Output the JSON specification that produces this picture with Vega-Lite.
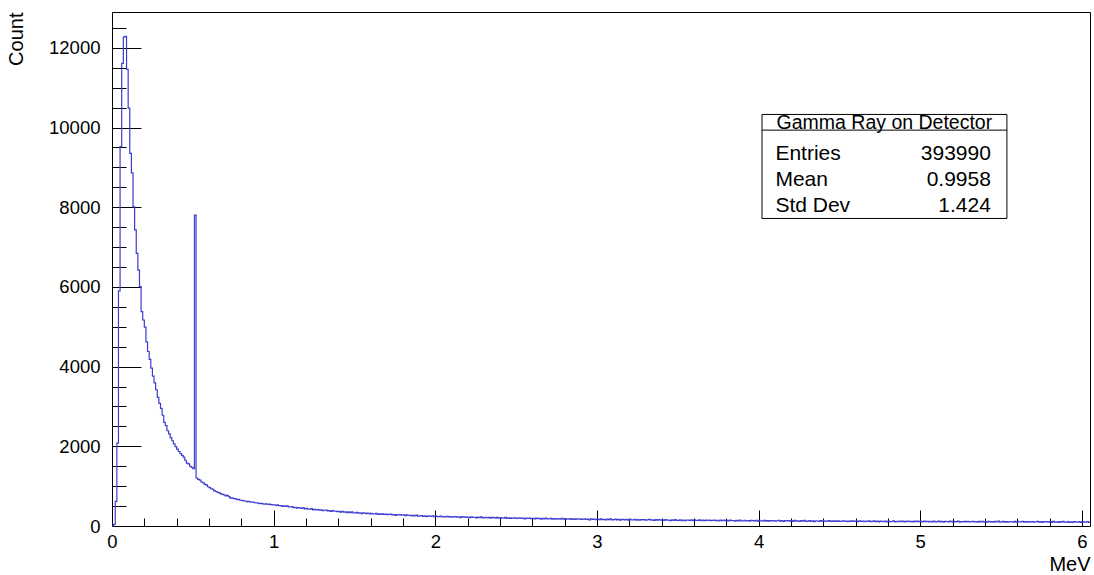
{
  "$schema": "https://vega.github.io/schema/vega-lite/v6.json",
  "autosize": {"type": "none"},
  "padding": {"left": 112, "top": 12, "right": 4, "bottom": 49},
  "width": 978,
  "height": 514,
  "background": "white",
  "config": {
    "view": {"stroke": "black", "strokeWidth": 1},
    "font": "Liberation Sans",
    "axis": {
      "grid": false,
      "domain": false,
      "tickColor": "black",
      "tickWidth": 1,
      "labelColor": "black",
      "labelFont": "Liberation Sans",
      "labelFontSize": 18.5,
      "titleColor": "black",
      "titleFont": "Liberation Sans",
      "titleFontSize": 20,
      "titleFontWeight": "normal"
    }
  },
  "datasets": {
    "spectrum": [
      {"mev":0.00,"count":0},{"mev":0.01,"count":40},{"mev":0.02,"count":620},{"mev":0.03,"count":2080},{"mev":0.04,"count":5900},
      {"mev":0.05,"count":9520},{"mev":0.06,"count":11610},{"mev":0.07,"count":12270},{"mev":0.08,"count":12290},{"mev":0.09,"count":11460},
      {"mev":0.10,"count":10490},{"mev":0.11,"count":9350},{"mev":0.12,"count":8860},{"mev":0.13,"count":8010},{"mev":0.14,"count":7430},
      {"mev":0.15,"count":6840},{"mev":0.16,"count":6420},{"mev":0.17,"count":6010},{"mev":0.18,"count":5380},{"mev":0.19,"count":5170},
      {"mev":0.20,"count":4990},{"mev":0.21,"count":4620},{"mev":0.22,"count":4380},{"mev":0.23,"count":4180},{"mev":0.24,"count":3960},
      {"mev":0.25,"count":3760},{"mev":0.26,"count":3590},{"mev":0.27,"count":3420},{"mev":0.28,"count":3230},{"mev":0.29,"count":3080},
      {"mev":0.30,"count":2950},{"mev":0.31,"count":2780},{"mev":0.32,"count":2600},{"mev":0.33,"count":2520},{"mev":0.34,"count":2390},
      {"mev":0.35,"count":2310},{"mev":0.36,"count":2220},{"mev":0.37,"count":2140},{"mev":0.38,"count":2060},{"mev":0.39,"count":1990},
      {"mev":0.40,"count":1930},{"mev":0.41,"count":1870},{"mev":0.42,"count":1820},{"mev":0.43,"count":1770},{"mev":0.44,"count":1730},
      {"mev":0.45,"count":1650},{"mev":0.46,"count":1580},{"mev":0.47,"count":1560},{"mev":0.48,"count":1500},{"mev":0.49,"count":1470},
      {"mev":0.50,"count":1440},{"mev":0.51,"count":7800},{"mev":0.52,"count":1205},{"mev":0.53,"count":1168},{"mev":0.54,"count":1152},
      {"mev":0.55,"count":1104},{"mev":0.56,"count":1091},{"mev":0.57,"count":1046},{"mev":0.58,"count":1031},{"mev":0.59,"count":985},
      {"mev":0.60,"count":962},{"mev":0.61,"count":935},{"mev":0.62,"count":918},{"mev":0.63,"count":880},{"mev":0.64,"count":866},
      {"mev":0.65,"count":842},{"mev":0.66,"count":833},{"mev":0.67,"count":808},{"mev":0.68,"count":792},{"mev":0.69,"count":781},
      {"mev":0.70,"count":754},{"mev":0.71,"count":768},{"mev":0.72,"count":735},{"mev":0.73,"count":702},{"mev":0.74,"count":708},
      {"mev":0.75,"count":689},{"mev":0.76,"count":680},{"mev":0.77,"count":664},{"mev":0.78,"count":668},{"mev":0.79,"count":646},
      {"mev":0.80,"count":641},{"mev":0.81,"count":632},{"mev":0.82,"count":628},{"mev":0.83,"count":612},{"mev":0.84,"count":618},
      {"mev":0.85,"count":603},{"mev":0.86,"count":596},{"mev":0.87,"count":601},{"mev":0.88,"count":584},{"mev":0.89,"count":579},
      {"mev":0.90,"count":576},{"mev":0.91,"count":562},{"mev":0.92,"count":570},{"mev":0.93,"count":555},{"mev":0.94,"count":548},
      {"mev":0.95,"count":553},{"mev":0.96,"count":541},{"mev":0.97,"count":547},{"mev":0.98,"count":535},{"mev":0.99,"count":530},
      {"mev":1.00,"count":533},{"mev":1.01,"count":514},{"mev":1.02,"count":530},{"mev":1.03,"count":510},{"mev":1.04,"count":512},
      {"mev":1.05,"count":493},{"mev":1.06,"count":507},{"mev":1.07,"count":489},{"mev":1.08,"count":504},{"mev":1.09,"count":478},
      {"mev":1.10,"count":477},{"mev":1.11,"count":485},{"mev":1.12,"count":462},{"mev":1.13,"count":471},{"mev":1.14,"count":449},
      {"mev":1.15,"count":463},{"mev":1.16,"count":453},{"mev":1.17,"count":440},{"mev":1.18,"count":453},{"mev":1.19,"count":428},
      {"mev":1.20,"count":441},{"mev":1.21,"count":423},{"mev":1.22,"count":423},{"mev":1.23,"count":434},{"mev":1.24,"count":407},
      {"mev":1.25,"count":418},{"mev":1.26,"count":403},{"mev":1.27,"count":414},{"mev":1.28,"count":399},{"mev":1.29,"count":405},
      {"mev":1.30,"count":387},{"mev":1.31,"count":395},{"mev":1.32,"count":399},{"mev":1.33,"count":379},{"mev":1.34,"count":387},
      {"mev":1.35,"count":366},{"mev":1.36,"count":384},{"mev":1.37,"count":370},{"mev":1.38,"count":376},{"mev":1.39,"count":361},
      {"mev":1.40,"count":368},{"mev":1.41,"count":350},{"mev":1.42,"count":368},{"mev":1.43,"count":350},{"mev":1.44,"count":354},
      {"mev":1.45,"count":337},{"mev":1.46,"count":353},{"mev":1.47,"count":337},{"mev":1.48,"count":354},{"mev":1.49,"count":330},
      {"mev":1.50,"count":331},{"mev":1.51,"count":342},{"mev":1.52,"count":321},{"mev":1.53,"count":332},{"mev":1.54,"count":312},
      {"mev":1.55,"count":329},{"mev":1.56,"count":322},{"mev":1.57,"count":311},{"mev":1.58,"count":326},{"mev":1.59,"count":303},
      {"mev":1.60,"count":319},{"mev":1.61,"count":303},{"mev":1.62,"count":304},{"mev":1.63,"count":317},{"mev":1.64,"count":292},
      {"mev":1.65,"count":304},{"mev":1.66,"count":292},{"mev":1.67,"count":305},{"mev":1.68,"count":292},{"mev":1.69,"count":299},
      {"mev":1.70,"count":283},{"mev":1.71,"count":292},{"mev":1.72,"count":298},{"mev":1.73,"count":279},{"mev":1.74,"count":288},
      {"mev":1.75,"count":268},{"mev":1.76,"count":289},{"mev":1.77,"count":276},{"mev":1.78,"count":283},{"mev":1.79,"count":270},
      {"mev":1.80,"count":278},{"mev":1.81,"count":261},{"mev":1.82,"count":281},{"mev":1.83,"count":263},{"mev":1.84,"count":268},
      {"mev":1.85,"count":253},{"mev":1.86,"count":270},{"mev":1.87,"count":255},{"mev":1.88,"count":272},{"mev":1.89,"count":250},
      {"mev":1.90,"count":252},{"mev":1.91,"count":263},{"mev":1.92,"count":244},{"mev":1.93,"count":255},{"mev":1.94,"count":237},
      {"mev":1.95,"count":254},{"mev":1.96,"count":248},{"mev":1.97,"count":238},{"mev":1.98,"count":254},{"mev":1.99,"count":232},
      {"mev":2.00,"count":249},{"mev":2.01,"count":234},{"mev":2.02,"count":236},{"mev":2.03,"count":250},{"mev":2.04,"count":226},
      {"mev":2.05,"count":238},{"mev":2.06,"count":226},{"mev":2.07,"count":240},{"mev":2.08,"count":228},{"mev":2.09,"count":236},
      {"mev":2.10,"count":221},{"mev":2.11,"count":231},{"mev":2.12,"count":238},{"mev":2.13,"count":220},{"mev":2.14,"count":230},
      {"mev":2.15,"count":212},{"mev":2.16,"count":233},{"mev":2.17,"count":221},{"mev":2.18,"count":229},{"mev":2.19,"count":217},
      {"mev":2.20,"count":226},{"mev":2.21,"count":210},{"mev":2.22,"count":230},{"mev":2.23,"count":213},{"mev":2.24,"count":219},
      {"mev":2.25,"count":205},{"mev":2.26,"count":223},{"mev":2.27,"count":209},{"mev":2.28,"count":227},{"mev":2.29,"count":205},
      {"mev":2.30,"count":208},{"mev":2.31,"count":220},{"mev":2.32,"count":201},{"mev":2.33,"count":214},{"mev":2.34,"count":196},
      {"mev":2.35,"count":214},{"mev":2.36,"count":208},{"mev":2.37,"count":199},{"mev":2.38,"count":216},{"mev":2.39,"count":195},
      {"mev":2.40,"count":212},{"mev":2.41,"count":197},{"mev":2.42,"count":200},{"mev":2.43,"count":214},{"mev":2.44,"count":190},
      {"mev":2.45,"count":204},{"mev":2.46,"count":192},{"mev":2.47,"count":206},{"mev":2.48,"count":195},{"mev":2.49,"count":203},
      {"mev":2.50,"count":188},{"mev":2.51,"count":198},{"mev":2.52,"count":206},{"mev":2.53,"count":188},{"mev":2.54,"count":198},
      {"mev":2.55,"count":180},{"mev":2.56,"count":201},{"mev":2.57,"count":189},{"mev":2.58,"count":198},{"mev":2.59,"count":186},
      {"mev":2.60,"count":195},{"mev":2.61,"count":179},{"mev":2.62,"count":200},{"mev":2.63,"count":183},{"mev":2.64,"count":190},
      {"mev":2.65,"count":175},{"mev":2.66,"count":193},{"mev":2.67,"count":180},{"mev":2.68,"count":198},{"mev":2.69,"count":177},
      {"mev":2.70,"count":180},{"mev":2.71,"count":192},{"mev":2.72,"count":174},{"mev":2.73,"count":186},{"mev":2.74,"count":169},
      {"mev":2.75,"count":187},{"mev":2.76,"count":181},{"mev":2.77,"count":173},{"mev":2.78,"count":189},{"mev":2.79,"count":169},
      {"mev":2.80,"count":186},{"mev":2.81,"count":171},{"mev":2.82,"count":174},{"mev":2.83,"count":188},{"mev":2.84,"count":165},
      {"mev":2.85,"count":178},{"mev":2.86,"count":166},{"mev":2.87,"count":181},{"mev":2.88,"count":169},{"mev":2.89,"count":178},
      {"mev":2.90,"count":163},{"mev":2.91,"count":173},{"mev":2.92,"count":181},{"mev":2.93,"count":163},{"mev":2.94,"count":174},
      {"mev":2.95,"count":155},{"mev":2.96,"count":177},{"mev":2.97,"count":165},{"mev":2.98,"count":174},{"mev":2.99,"count":162},
      {"mev":3.00,"count":172},{"mev":3.01,"count":157},{"mev":3.02,"count":177},{"mev":3.03,"count":161},{"mev":3.04,"count":167},
      {"mev":3.05,"count":153},{"mev":3.06,"count":172},{"mev":3.07,"count":158},{"mev":3.08,"count":177},{"mev":3.09,"count":155},
      {"mev":3.10,"count":159},{"mev":3.11,"count":172},{"mev":3.12,"count":153},{"mev":3.13,"count":166},{"mev":3.14,"count":148},
      {"mev":3.15,"count":167},{"mev":3.16,"count":162},{"mev":3.17,"count":153},{"mev":3.18,"count":170},{"mev":3.19,"count":149},
      {"mev":3.20,"count":167},{"mev":3.21,"count":153},{"mev":3.22,"count":155},{"mev":3.23,"count":170},{"mev":3.24,"count":146},
      {"mev":3.25,"count":160},{"mev":3.26,"count":149},{"mev":3.27,"count":163},{"mev":3.28,"count":152},{"mev":3.29,"count":160},
      {"mev":3.30,"count":146},{"mev":3.31,"count":157},{"mev":3.32,"count":164},{"mev":3.33,"count":147},{"mev":3.34,"count":157},
      {"mev":3.35,"count":139},{"mev":3.36,"count":161},{"mev":3.37,"count":149},{"mev":3.38,"count":158},{"mev":3.39,"count":146},
      {"mev":3.40,"count":156},{"mev":3.41,"count":141},{"mev":3.42,"count":161},{"mev":3.43,"count":145},{"mev":3.44,"count":151},
      {"mev":3.45,"count":137},{"mev":3.46,"count":156},{"mev":3.47,"count":142},{"mev":3.48,"count":161},{"mev":3.49,"count":139},
      {"mev":3.50,"count":143},{"mev":3.51,"count":156},{"mev":3.52,"count":137},{"mev":3.53,"count":150},{"mev":3.54,"count":133},
      {"mev":3.55,"count":151},{"mev":3.56,"count":146},{"mev":3.57,"count":138},{"mev":3.58,"count":154},{"mev":3.59,"count":134},
      {"mev":3.60,"count":152},{"mev":3.61,"count":138},{"mev":3.62,"count":141},{"mev":3.63,"count":155},{"mev":3.64,"count":132},
      {"mev":3.65,"count":146},{"mev":3.66,"count":135},{"mev":3.67,"count":149},{"mev":3.68,"count":138},{"mev":3.69,"count":146},
      {"mev":3.70,"count":132},{"mev":3.71,"count":143},{"mev":3.72,"count":151},{"mev":3.73,"count":133},{"mev":3.74,"count":144},
      {"mev":3.75,"count":126},{"mev":3.76,"count":148},{"mev":3.77,"count":136},{"mev":3.78,"count":145},{"mev":3.79,"count":133},
      {"mev":3.80,"count":143},{"mev":3.81,"count":128},{"mev":3.82,"count":148},{"mev":3.83,"count":132},{"mev":3.84,"count":138},
      {"mev":3.85,"count":124},{"mev":3.86,"count":143},{"mev":3.87,"count":130},{"mev":3.88,"count":148},{"mev":3.89,"count":127},
      {"mev":3.90,"count":131},{"mev":3.91,"count":144},{"mev":3.92,"count":125},{"mev":3.93,"count":138},{"mev":3.94,"count":121},
      {"mev":3.95,"count":140},{"mev":3.96,"count":135},{"mev":3.97,"count":126},{"mev":3.98,"count":143},{"mev":3.99,"count":122},
      {"mev":4.00,"count":140},{"mev":4.01,"count":126},{"mev":4.02,"count":129},{"mev":4.03,"count":143},{"mev":4.04,"count":120},
      {"mev":4.05,"count":134},{"mev":4.06,"count":123},{"mev":4.07,"count":137},{"mev":4.08,"count":126},{"mev":4.09,"count":135},
      {"mev":4.10,"count":121},{"mev":4.11,"count":132},{"mev":4.12,"count":140},{"mev":4.13,"count":123},{"mev":4.14,"count":133},
      {"mev":4.15,"count":115},{"mev":4.16,"count":137},{"mev":4.17,"count":126},{"mev":4.18,"count":135},{"mev":4.19,"count":123},
      {"mev":4.20,"count":133},{"mev":4.21,"count":118},{"mev":4.22,"count":139},{"mev":4.23,"count":122},{"mev":4.24,"count":129},
      {"mev":4.25,"count":115},{"mev":4.26,"count":134},{"mev":4.27,"count":121},{"mev":4.28,"count":139},{"mev":4.29,"count":118},
      {"mev":4.30,"count":122},{"mev":4.31,"count":135},{"mev":4.32,"count":117},{"mev":4.33,"count":130},{"mev":4.34,"count":112},
      {"mev":4.35,"count":131},{"mev":4.36,"count":126},{"mev":4.37,"count":118},{"mev":4.38,"count":134},{"mev":4.39,"count":114},
      {"mev":4.40,"count":132},{"mev":4.41,"count":118},{"mev":4.42,"count":121},{"mev":4.43,"count":136},{"mev":4.44,"count":113},
      {"mev":4.45,"count":127},{"mev":4.46,"count":115},{"mev":4.47,"count":130},{"mev":4.48,"count":118},{"mev":4.49,"count":127},
      {"mev":4.50,"count":113},{"mev":4.51,"count":124},{"mev":4.52,"count":132},{"mev":4.53,"count":115},{"mev":4.54,"count":126},
      {"mev":4.55,"count":107},{"mev":4.56,"count":129},{"mev":4.57,"count":118},{"mev":4.58,"count":127},{"mev":4.59,"count":115},
      {"mev":4.60,"count":125},{"mev":4.61,"count":110},{"mev":4.62,"count":131},{"mev":4.63,"count":114},{"mev":4.64,"count":121},
      {"mev":4.65,"count":107},{"mev":4.66,"count":126},{"mev":4.67,"count":113},{"mev":4.68,"count":131},{"mev":4.69,"count":110},
      {"mev":4.70,"count":114},{"mev":4.71,"count":127},{"mev":4.72,"count":109},{"mev":4.73,"count":122},{"mev":4.74,"count":104},
      {"mev":4.75,"count":123},{"mev":4.76,"count":118},{"mev":4.77,"count":110},{"mev":4.78,"count":126},{"mev":4.79,"count":106},
      {"mev":4.80,"count":124},{"mev":4.81,"count":110},{"mev":4.82,"count":113},{"mev":4.83,"count":128},{"mev":4.84,"count":105},
      {"mev":4.85,"count":119},{"mev":4.86,"count":107},{"mev":4.87,"count":122},{"mev":4.88,"count":111},{"mev":4.89,"count":120},
      {"mev":4.90,"count":106},{"mev":4.91,"count":117},{"mev":4.92,"count":125},{"mev":4.93,"count":107},{"mev":4.94,"count":118},
      {"mev":4.95,"count":100},{"mev":4.96,"count":122},{"mev":4.97,"count":111},{"mev":4.98,"count":120},{"mev":4.99,"count":108},
      {"mev":5.00,"count":118},{"mev":5.01,"count":103},{"mev":5.02,"count":124},{"mev":5.03,"count":108},{"mev":5.04,"count":115},
      {"mev":5.05,"count":101},{"mev":5.06,"count":119},{"mev":5.07,"count":106},{"mev":5.08,"count":125},{"mev":5.09,"count":104},
      {"mev":5.10,"count":108},{"mev":5.11,"count":121},{"mev":5.12,"count":103},{"mev":5.13,"count":116},{"mev":5.14,"count":99},
      {"mev":5.15,"count":118},{"mev":5.16,"count":113},{"mev":5.17,"count":104},{"mev":5.18,"count":121},{"mev":5.19,"count":101},
      {"mev":5.20,"count":119},{"mev":5.21,"count":105},{"mev":5.22,"count":108},{"mev":5.23,"count":122},{"mev":5.24,"count":99},
      {"mev":5.25,"count":113},{"mev":5.26,"count":102},{"mev":5.27,"count":117},{"mev":5.28,"count":106},{"mev":5.29,"count":114},
      {"mev":5.30,"count":100},{"mev":5.31,"count":111},{"mev":5.32,"count":119},{"mev":5.33,"count":102},{"mev":5.34,"count":113},
      {"mev":5.35,"count":95},{"mev":5.36,"count":116},{"mev":5.37,"count":105},{"mev":5.38,"count":114},{"mev":5.39,"count":103},
      {"mev":5.40,"count":113},{"mev":5.41,"count":98},{"mev":5.42,"count":119},{"mev":5.43,"count":103},{"mev":5.44,"count":110},
      {"mev":5.45,"count":96},{"mev":5.46,"count":114},{"mev":5.47,"count":101},{"mev":5.48,"count":120},{"mev":5.49,"count":99},
      {"mev":5.50,"count":103},{"mev":5.51,"count":116},{"mev":5.52,"count":98},{"mev":5.53,"count":111},{"mev":5.54,"count":94},
      {"mev":5.55,"count":113},{"mev":5.56,"count":107},{"mev":5.57,"count":99},{"mev":5.58,"count":116},{"mev":5.59,"count":96},
      {"mev":5.60,"count":114},{"mev":5.61,"count":100},{"mev":5.62,"count":103},{"mev":5.63,"count":118},{"mev":5.64,"count":95},
      {"mev":5.65,"count":109},{"mev":5.66,"count":97},{"mev":5.67,"count":112},{"mev":5.68,"count":101},{"mev":5.69,"count":110},
      {"mev":5.70,"count":96},{"mev":5.71,"count":107},{"mev":5.72,"count":115},{"mev":5.73,"count":98},{"mev":5.74,"count":108},
      {"mev":5.75,"count":90},{"mev":5.76,"count":112},{"mev":5.77,"count":101},{"mev":5.78,"count":110},{"mev":5.79,"count":98},
      {"mev":5.80,"count":108},{"mev":5.81,"count":93},{"mev":5.82,"count":114},{"mev":5.83,"count":98},{"mev":5.84,"count":105},
      {"mev":5.85,"count":91},{"mev":5.86,"count":109},{"mev":5.87,"count":96},{"mev":5.88,"count":115},{"mev":5.89,"count":94},
      {"mev":5.90,"count":98},{"mev":5.91,"count":111},{"mev":5.92,"count":93},{"mev":5.93,"count":106},{"mev":5.94,"count":89},
      {"mev":5.95,"count":108},{"mev":5.96,"count":102},{"mev":5.97,"count":94},{"mev":5.98,"count":111},{"mev":5.99,"count":91},
      {"mev":6.00,"count":109},{"mev":6.01,"count":95},{"mev":6.02,"count":98},{"mev":6.03,"count":113},{"mev":6.04,"count":90},
      {"mev":6.05,"count":90}
    ]
  },
  "resolve": {"axis": {"x": "independent", "y": "independent"}},
  "layer": [
    {
      "data": {"name": "spectrum"},
      "mark": {"type": "line", "interpolate": "step-after", "color": "#3c3cd0", "strokeWidth": 1.2},
      "encoding": {
        "x": {
          "field": "mev", "type": "quantitative",
          "scale": {"domain": [0, 6.05], "nice": false, "zero": false},
          "axis": {
            "orient": "bottom", "title": "MeV", "titleAnchor": "end", "titlePadding": 4,
            "values": [0, 1, 2, 3, 4, 5, 6], "format": "d",
            "tickSize": -16, "labelPadding": 22, "labelFlush": false
          }
        },
        "y": {
          "field": "count", "type": "quantitative",
          "scale": {"domain": [0, 12900], "nice": false, "zero": false},
          "axis": {
            "orient": "left", "title": "Count", "titleAnchor": "end", "titlePadding": 22,
            "values": [0, 2000, 4000, 6000, 8000, 10000, 12000], "format": "d",
            "tickSize": -29, "labelPadding": 41, "labelFlush": false
          }
        }
      }
    },
    {
      "data": {"name": "spectrum"},
      "mark": {"type": "line", "interpolate": "step-after", "strokeOpacity": 0},
      "encoding": {
        "x": {
          "field": "mev", "type": "quantitative",
          "scale": {"domain": [0, 6.05], "nice": false, "zero": false},
          "axis": {
            "orient": "bottom", "title": null, "labels": false,
            "values": [0.2, 0.4, 0.6, 0.8, 1.2, 1.4, 1.6, 1.8, 2.2, 2.4, 2.6, 2.8, 3.2, 3.4, 3.6, 3.8, 4.2, 4.4, 4.6, 4.8, 5.2, 5.4, 5.6, 5.8],
            "tickSize": -8
          }
        },
        "y": {
          "field": "count", "type": "quantitative",
          "scale": {"domain": [0, 12900], "nice": false, "zero": false},
          "axis": {
            "orient": "left", "title": null, "labels": false,
            "values": [500, 1000, 1500, 2500, 3000, 3500, 4500, 5000, 5500, 6500, 7000, 7500, 8500, 9000, 9500, 10500, 11000, 11500, 12500],
            "tickSize": -14
          }
        }
      }
    },
    {
      "data": {"values": [{}]},
      "mark": {"type": "rect", "fill": "white", "stroke": "black", "strokeWidth": 1},
      "encoding": {
        "x": {"datum": 4.021, "type": "quantitative", "axis": null},
        "x2": {"datum": 5.536},
        "y": {"datum": 10329, "type": "quantitative", "axis": null},
        "y2": {"datum": 7718}
      }
    },
    {
      "data": {"values": [{}]},
      "mark": {"type": "rule", "color": "black", "strokeWidth": 1},
      "encoding": {
        "x": {"datum": 4.021, "type": "quantitative", "axis": null},
        "x2": {"datum": 5.536},
        "y": {"datum": 9935, "type": "quantitative", "axis": null}
      }
    },
    {
      "data": {"values": [{}]},
      "mark": {"type": "text", "text": "Gamma Ray on Detector", "align": "center", "baseline": "middle", "fontSize": 19.5, "font": "Liberation Sans", "color": "black", "dy": 1},
      "encoding": {
        "x": {"datum": 4.778, "type": "quantitative", "axis": null},
        "y": {"datum": 10136, "type": "quantitative", "axis": null}
      }
    },
    {
      "data": {"values": [
        {"stat": "Entries", "value": "393990", "row": 9325},
        {"stat": "Mean", "value": "0.9958", "row": 8680},
        {"stat": "Std Dev", "value": "1.424", "row": 8027}
      ]},
      "layer": [
        {
          "mark": {"type": "text", "align": "left", "baseline": "middle", "fontSize": 21, "font": "Liberation Sans", "color": "black"},
          "encoding": {
            "x": {"datum": 4.104, "type": "quantitative", "axis": null},
            "y": {"field": "row", "type": "quantitative", "axis": null},
            "text": {"field": "stat"}
          }
        },
        {
          "mark": {"type": "text", "align": "right", "baseline": "middle", "fontSize": 21, "font": "Liberation Sans", "color": "black"},
          "encoding": {
            "x": {"datum": 5.437, "type": "quantitative", "axis": null},
            "y": {"field": "row", "type": "quantitative", "axis": null},
            "text": {"field": "value"}
          }
        }
      ]
    }
  ]
}
